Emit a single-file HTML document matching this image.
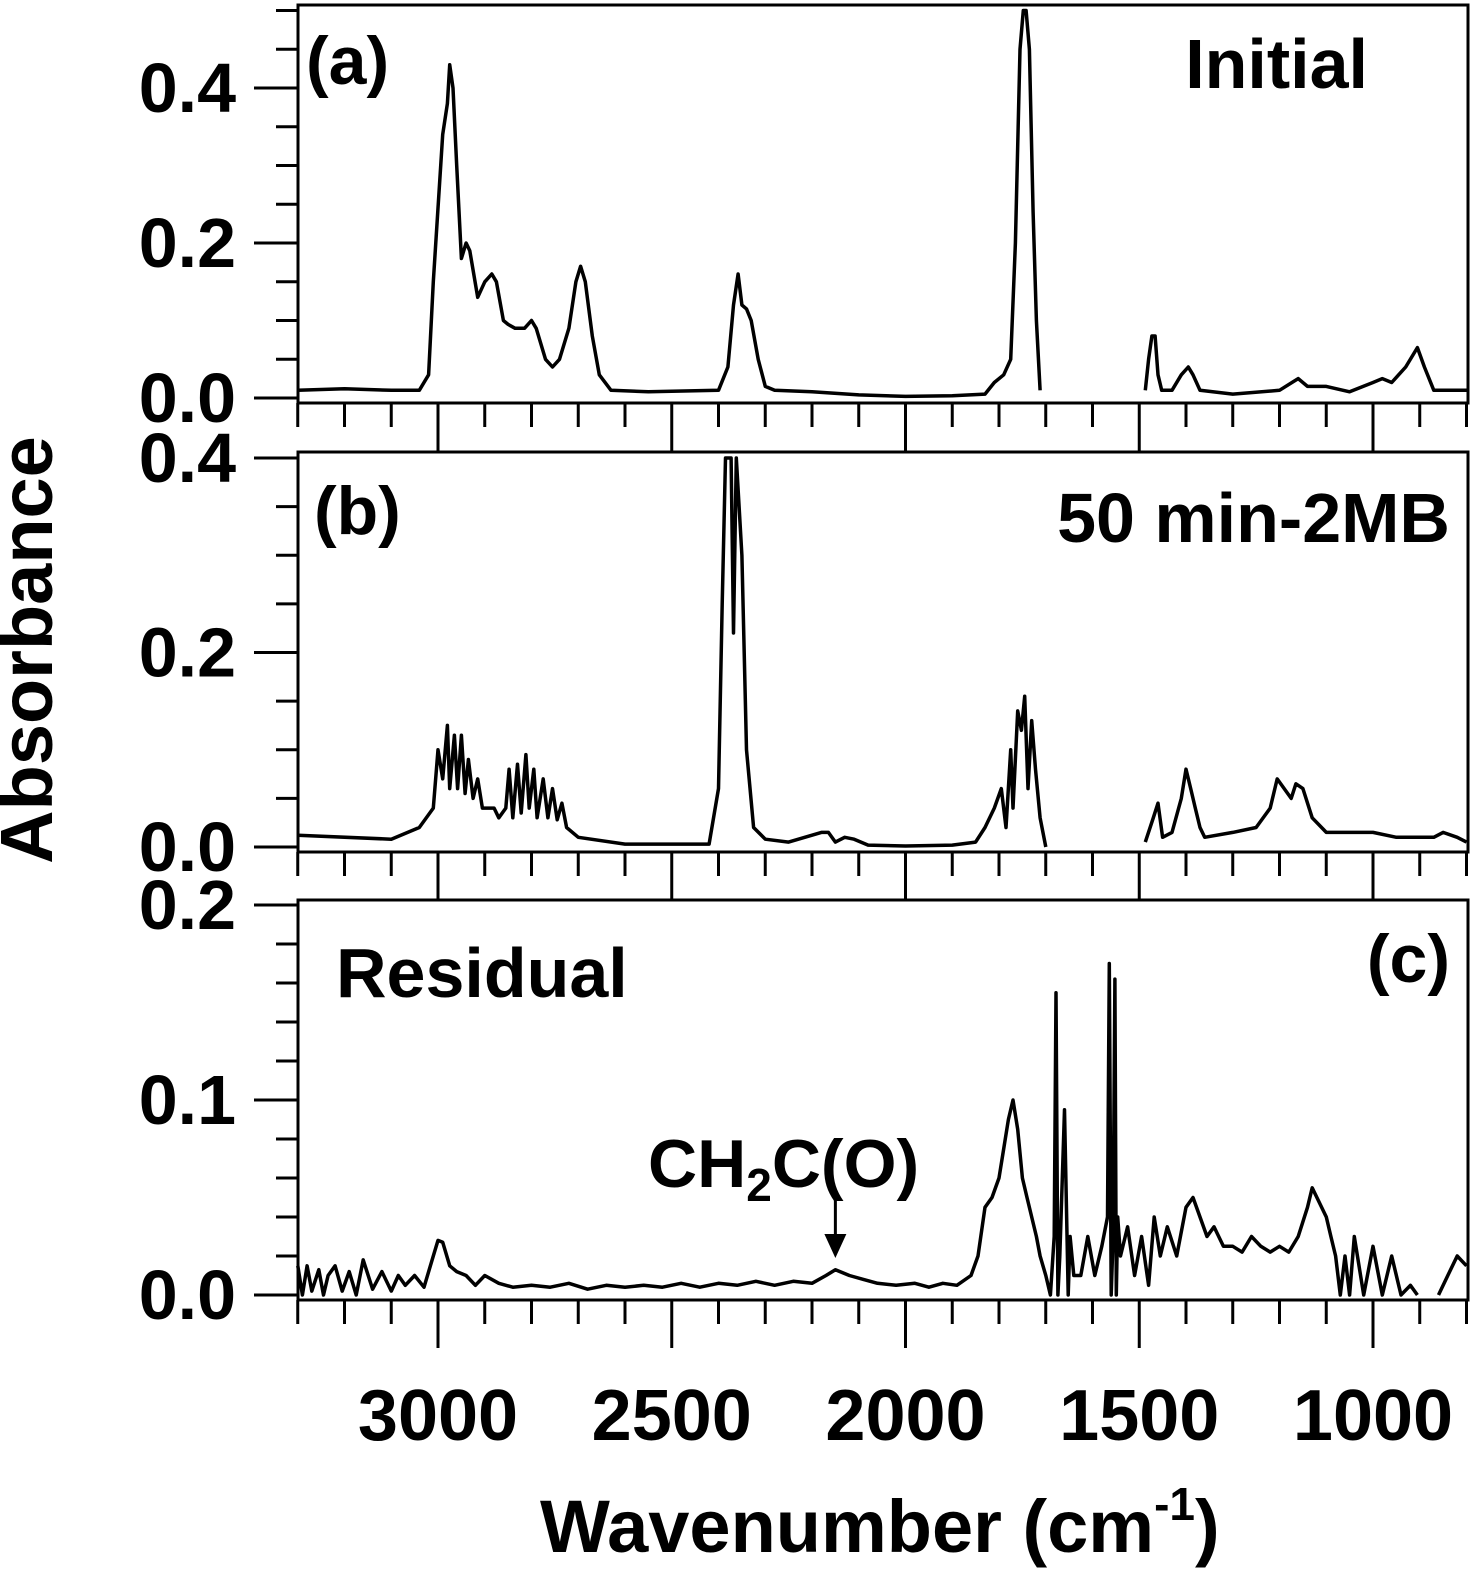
<!DOCTYPE html>
<html><head><meta charset="utf-8"><style>
html,body{margin:0;padding:0;background:#fff}
svg{display:block}
text{font-family:"Liberation Sans",Arial,sans-serif;font-weight:bold;fill:#000}
</style></head><body>
<svg id="chart" width="1475" height="1571" viewBox="0 0 1475 1571" xmlns="http://www.w3.org/2000/svg"></svg>
<script>
// x-axis ticks
const xMajorTicks = [3000, 2500, 2000, 1500, 1000];
const xTickLabels = ["3000", "2500", "2000", "1500", "1000"];
// panel (a) Initial
const aWn = [3300,3200,3100,3040,3020,3010,2990,2980,2975,2968,2960,2950,2940,2932,2915,2900,2885,2875,2860,2850,2835,2815,2800,2790,2770,2755,2740,2720,2705,2695,2685,2670,2655,2630,2550,2400,2380,2368,2358,2350,2340,2330,2315,2300,2280,2200,2100,2000,1900,1830,1810,1790,1775,1765,1755,1748,1742,1735,1727,1720,1712,null,1487,1480,1473,1466,1460,1452,1430,1410,1395,1385,1370,1300,1200,1160,1140,1100,1050,1000,980,960,930,905,890,870,800];
const aAbs = [.01,.012,.01,.01,.03,.15,.34,.38,.43,.40,.30,.18,.20,.19,.13,.15,.16,.15,.10,.095,.09,.09,.10,.09,.05,.04,.05,.09,.15,.17,.15,.08,.03,.01,.008,.01,.04,.12,.16,.12,.115,.10,.05,.015,.01,.008,.004,.002,.003,.005,.02,.03,.05,.2,.45,.5,.5,.45,.24,.1,.01,null,.01,.05,.08,.08,.03,.01,.01,.03,.04,.03,.01,.005,.01,.025,.015,.015,.008,.02,.025,.02,.04,.065,.04,.01,.01];
// panel (b) 50 min-2MB
const bWn = [3300,3100,3040,3010,3000,2990,2980,2975,2965,2958,2950,2942,2935,2925,2915,2905,2880,2870,2855,2848,2840,2830,2822,2812,2805,2795,2788,2775,2765,2755,2745,2735,2725,2700,2600,2420,2400,2392,2385,2373,2368,2362,2350,2340,2325,2300,2250,2180,2165,2150,2130,2110,2080,2000,1900,1850,1830,1810,1795,1785,1775,1770,1760,1752,1745,1738,1730,1722,1712,1700,null,1487,1470,1460,1450,1430,1410,1400,1390,1380,1370,1360,1300,1250,1220,1205,1190,1175,1165,1150,1130,1100,1000,950,900,870,850,820,800];
const bAbs = [.012,.008,.02,.04,.1,.07,.125,.06,.115,.06,.115,.055,.09,.05,.07,.04,.04,.03,.04,.08,.03,.085,.035,.095,.04,.08,.03,.07,.03,.06,.028,.045,.02,.01,.003,.003,.06,.25,.4,.4,.22,.4,.3,.1,.02,.008,.005,.015,.015,.005,.01,.008,.002,.001,.002,.005,.02,.04,.06,.02,.1,.04,.14,.12,.155,.06,.13,.08,.03,0,null,.005,.03,.045,.01,.015,.05,.08,.06,.04,.02,.01,.015,.02,.04,.07,.06,.05,.065,.06,.03,.015,.015,.01,.01,.01,.015,.01,.005];
// panel (c) Residual
const cWn = [3300,3290,3280,3270,3255,3245,3235,3220,3205,3190,3175,3160,3140,3120,3100,3085,3070,3050,3030,3010,3000,2990,2975,2960,2940,2920,2900,2870,2840,2800,2760,2720,2680,2640,2600,2560,2520,2480,2440,2400,2360,2320,2280,2240,2200,2170,2150,2120,2090,2060,2020,1980,1950,1920,1890,1860,1845,1830,1815,1800,1790,1780,1770,1760,1750,1740,1730,1720,1712,1700,1690,1682,1678,1674,1670,1660,1652,1648,1640,1625,1610,1595,1580,1568,1564,1560,1556,1552,1549,1546,1540,1525,1510,1495,1480,1468,1455,1440,1420,1400,1385,1370,1355,1340,1320,1300,1280,1260,1240,1220,1200,1180,1160,1140,1130,1120,1110,1100,1090,1080,1070,1060,1050,1040,1020,1000,980,960,940,920,905,null,860,840,820,800];
const cAbs = [.015,0,.015,.002,.013,0,.01,.015,.002,.012,0,.018,.003,.012,.002,.01,.005,.01,.004,.02,.028,.027,.015,.012,.01,.005,.01,.006,.004,.005,.004,.006,.003,.005,.004,.005,.004,.006,.004,.006,.005,.007,.005,.007,.006,.01,.013,.01,.008,.006,.005,.006,.004,.006,.005,.01,.02,.045,.05,.06,.075,.09,.1,.085,.06,.05,.04,.03,.02,.01,0,.03,.155,0,.02,.095,0,.03,.01,.01,.03,.01,.025,.04,.17,0,.03,.162,0,.04,.02,.035,.01,.03,.005,.04,.02,.035,.02,.045,.05,.04,.03,.035,.025,.025,.022,.03,.025,.022,.025,.022,.03,.045,.055,.05,.045,.04,.03,.02,0,.02,0,.03,0,.025,0,.02,0,.005,0,null,0,.01,.02,.015];

const svg = document.getElementById('chart');
const NS = 'http://www.w3.org/2000/svg';
const X0 = 298, X1 = 1468;
function xs(w){ return 438 + (3000 - w) * 233.75 / 500; }
function mk(tag, attrs, parent){ const e = document.createElementNS(NS, tag); for (const k in attrs) e.setAttribute(k, attrs[k]); (parent||svg).appendChild(e); return e; }

const panels = [
  {id:'a', top:5, zero:398, pxPer:775, wn:aWn, ab:aAbs, yMax:0.5, minor:0.05, major:0.2, labels:[0,0.2,0.4]},
  {id:'b', top:452, zero:847, pxPer:972.5, wn:bWn, ab:bAbs, yMax:0.4, minor:0.05, major:0.2, labels:[0,0.2,0.4]},
  {id:'c', top:900, zero:1295, pxPer:1950, wn:cWn, ab:cAbs, yMax:0.2, minor:0.02, major:0.1, labels:[0,0.1,0.2]}
];

panels.forEach(p => {
  const g = mk('g', {});
  
  
  const ys = v => p.zero - v * p.pxPer;
  const frame = mk('rect', {x:X0, y:p.top, width:X1-X0, height:p.zero+5-p.top, fill:'none', stroke:'#000', 'stroke-width':3}, g);
  
  
  const bottom = p.zero + 5;
  const nMinor = Math.round(p.yMax / p.minor);
  for (let i = 0; i <= nMinor; i++) {
    const v = i * p.minor;
    const y = ys(v);
    if (y < p.top - 1) continue;
    const isMaj = Math.abs(v / p.major - Math.round(v / p.major)) < 1e-6;
    const t = mk('line', {x1:X0, x2:X0 - (isMaj ? 44 : 22), y1:y, y2:y, stroke:'#000', 'stroke-width':3}, g);
    
    
  }
  p.labels.forEach(v => {
    const t = mk('text', {x:236, y:ys(v) + 24, 'text-anchor':'end', 'font-size':70}, g);
    t.textContent = v.toFixed(1);
    
    
  });
  for (let w = 3300; w >= 800; w -= 100) {
    const x = xs(w);
    if (x < X0 - 1 || x > X1 + 1) continue;
    const isMaj = w % 500 === 0;
    const t = mk('line', {x1:x, x2:x, y1:bottom, y2:bottom + (isMaj ? 48 : 24), stroke:'#000', 'stroke-width':3}, g);
    
    
  }
  let d = '', pen = false;
  for (let i = 0; i < p.wn.length; i++) {
    if (p.wn[i] === null) { pen = false; continue; }
    const y = Math.max(p.top, ys(p.ab[i]));
    d += (pen ? 'L' : 'M') + xs(p.wn[i]).toFixed(1) + ',' + y.toFixed(1);
    pen = true;
  }
  const path = mk('path', {d:d, fill:'none', stroke:'#000', 'stroke-width':3.5, 'stroke-linejoin':'round'}, g);
  
  
});

xMajorTicks.forEach((w, i) => {
  const t = mk('text', {x:xs(w), y:1440, 'text-anchor':'middle', 'font-size':72});
  t.textContent = xTickLabels[i];
  
  
});

function label(txt, x, y, size, anchor, name){
  const t = mk('text', {x:x, y:y, 'font-size':size, 'text-anchor':anchor||'start'});
  t.textContent = txt;
  
  
  return t;
}
label('(a)', 306, 84, 68, 'start', 'panel-label-a');
label('Initial', 1368, 88, 70, 'end', 'panel-title-initial');
label('(b)', 314, 534, 68, 'start', 'panel-label-b');
label('50 min-2MB', 1450, 542, 70, 'end', 'panel-title-50min');
label('(c)', 1450, 982, 68, 'end', 'panel-label-c');
label('Residual', 336, 997, 70, 'start', 'panel-title-residual');

const ann = mk('text', {x:648, y:1187, 'font-size':68});


ann.innerHTML = 'CH<tspan font-size="46" dy="14">2</tspan><tspan dy="-14">C(O)</tspan>';
const arr = mk('line', {x1:xs(2150), x2:xs(2150), y1:1200, y2:1240, stroke:'#000', 'stroke-width':3});


const head = mk('polygon', {points:(xs(2150)-11)+',1234 '+(xs(2150)+11)+',1234 '+xs(2150)+',1258', fill:'#000'});



const yt = mk('text', {x:0, y:0, 'font-size':74, 'text-anchor':'middle', transform:'translate(52,650) rotate(-90)'});
yt.textContent = 'Absorbance';


const xt = mk('text', {x:540, y:1552, 'font-size':74});
xt.innerHTML = 'Wavenumber (cm<tspan font-size="46" dy="-32">-1</tspan><tspan dy="32">)</tspan>';


</script>
</body></html>
